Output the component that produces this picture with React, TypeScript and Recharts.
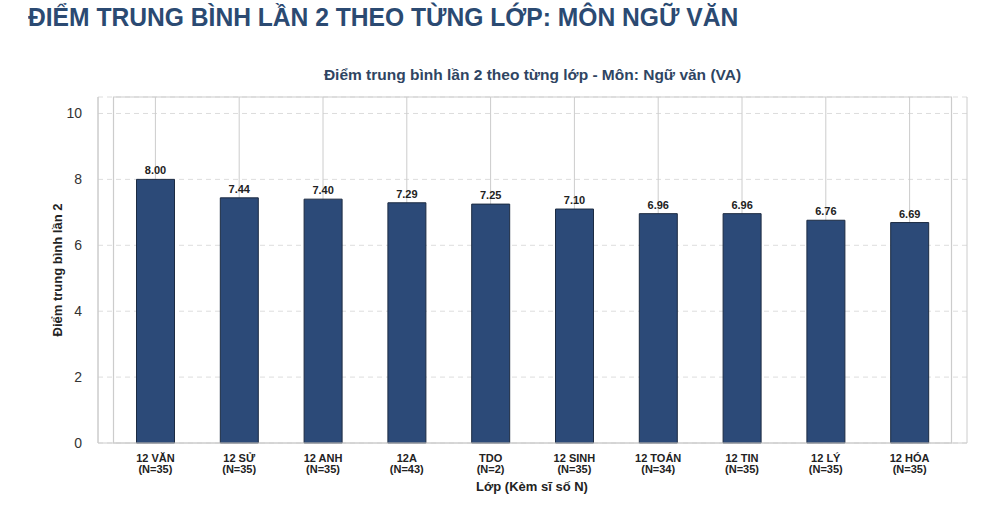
import React from 'react';
import { BarChart, Bar, XAxis, YAxis, CartesianGrid, LabelList, ReferenceArea } from 'recharts';

const classes = ['12 VĂN', '12 SỬ', '12 ANH', '12A', 'TDO', '12 SINH', '12 TOÁN', '12 TIN', '12 LÝ', '12 HÓA'];
const counts = [35, 35, 35, 43, 2, 35, 34, 35, 35, 35];
const scores = [8.0, 7.44, 7.4, 7.29, 7.25, 7.1, 6.96, 6.96, 6.76, 6.69];
const yTicks = [0, 2, 4, 6, 8, 10];

const data = classes.map((c, i) => ({ name: c, n: counts[i], score: scores[i] }));

const FONT = 'Liberation Sans, Arial, sans-serif';

const XTick = (props: any) => {
  const { x, y, payload, index } = props;
  const n = counts[index];
  return (
    <text x={x} y={y} textAnchor="middle" fontFamily={FONT} fontWeight="bold" fontSize={11} fill="#222">
      <tspan x={x} dy={11}>{payload.value}</tspan>
      <tspan x={x} dy={11}>{`(N=${n})`}</tspan>
    </text>
  );
};

export default function App() {
  return (
    <div style={{ position: 'absolute', left: 0, top: 0, width: 1000, height: 522, background: '#fff', fontFamily: FONT }}>
      <div
        style={{
          position: 'absolute',
          left: 28,
          top: 2,
          fontFamily: FONT,
          fontWeight: 'bold',
          fontSize: 26,
          color: '#2b4a72',
          whiteSpace: 'nowrap',
          transform: 'scaleX(0.947)',
          transformOrigin: 'left center',
        }}
      >
        ĐIỂM TRUNG BÌNH LẦN 2 THEO TỪNG LỚP: MÔN NGỮ VĂN
      </div>
      <div
        style={{
          position: 'absolute',
          left: 98,
          width: 869,
          top: 66,
          textAlign: 'center',
          fontWeight: 'bold',
          fontSize: 15.5,
          color: '#2f4562',
          whiteSpace: 'nowrap',
        }}
      >
        Điểm trung bình lần 2 theo từng lớp - Môn: Ngữ văn (VA)
      </div>
      <div style={{ position: 'absolute', left: 0, top: 0 }}>
        <BarChart width={1000} height={522} data={data} margin={{ top: 97, right: 33, bottom: 29, left: 58 }}>
          <CartesianGrid horizontal={true} vertical={false} stroke="#dddddd" strokeDasharray="5 4" />
          <CartesianGrid horizontal={false} vertical={true} stroke="#cccccc" />
          <ReferenceArea y1={0} y2={10.5} fill="none" stroke="#cccccc" strokeWidth={1.2} ifOverflow="visible" />
          <XAxis
            dataKey="name"
            height={50}
            padding={{ left: 15.5, right: 15.5 }}
            tickLine={false}
            axisLine={{ stroke: '#cccccc' }}
            tick={<XTick />}
            interval={0}
            tickMargin={2}
            label={{
              content: () => (
                <text x={532} y={491} textAnchor="middle" fontFamily={FONT} fontWeight="bold" fontSize={13} fill="#222">
                  Lớp (Kèm sĩ số N)
                </text>
              ),
            }}
          />
          <YAxis
            width={40}
            domain={[0, 10.5]}
            ticks={yTicks}
            tickLine={false}
            axisLine={{ stroke: '#cccccc' }}
            tickMargin={10}
            tick={{ fontFamily: FONT, fontSize: 14, fill: '#333' }}
            label={{
              content: () => (
                <text
                  x={62}
                  y={270}
                  transform="rotate(-90, 62, 270)"
                  textAnchor="middle"
                  fontFamily={FONT}
                  fontWeight="bold"
                  fontSize={13}
                  fill="#222"
                >
                  Điểm trung bình lần 2
                </text>
              ),
            }}
          />
          <Bar dataKey="score" barSize={38} fill="#2c4a78" stroke="#1c2b42" strokeWidth={1} isAnimationActive={false}>
            <LabelList
              dataKey="score"
              position="top"
              offset={5}
              formatter={(v: any) => Number(v).toFixed(2)}
              style={{ fontFamily: FONT, fontWeight: 'bold', fontSize: 11, fill: '#222' }}
            />
          </Bar>
        </BarChart>
      </div>
    </div>
  );
}
